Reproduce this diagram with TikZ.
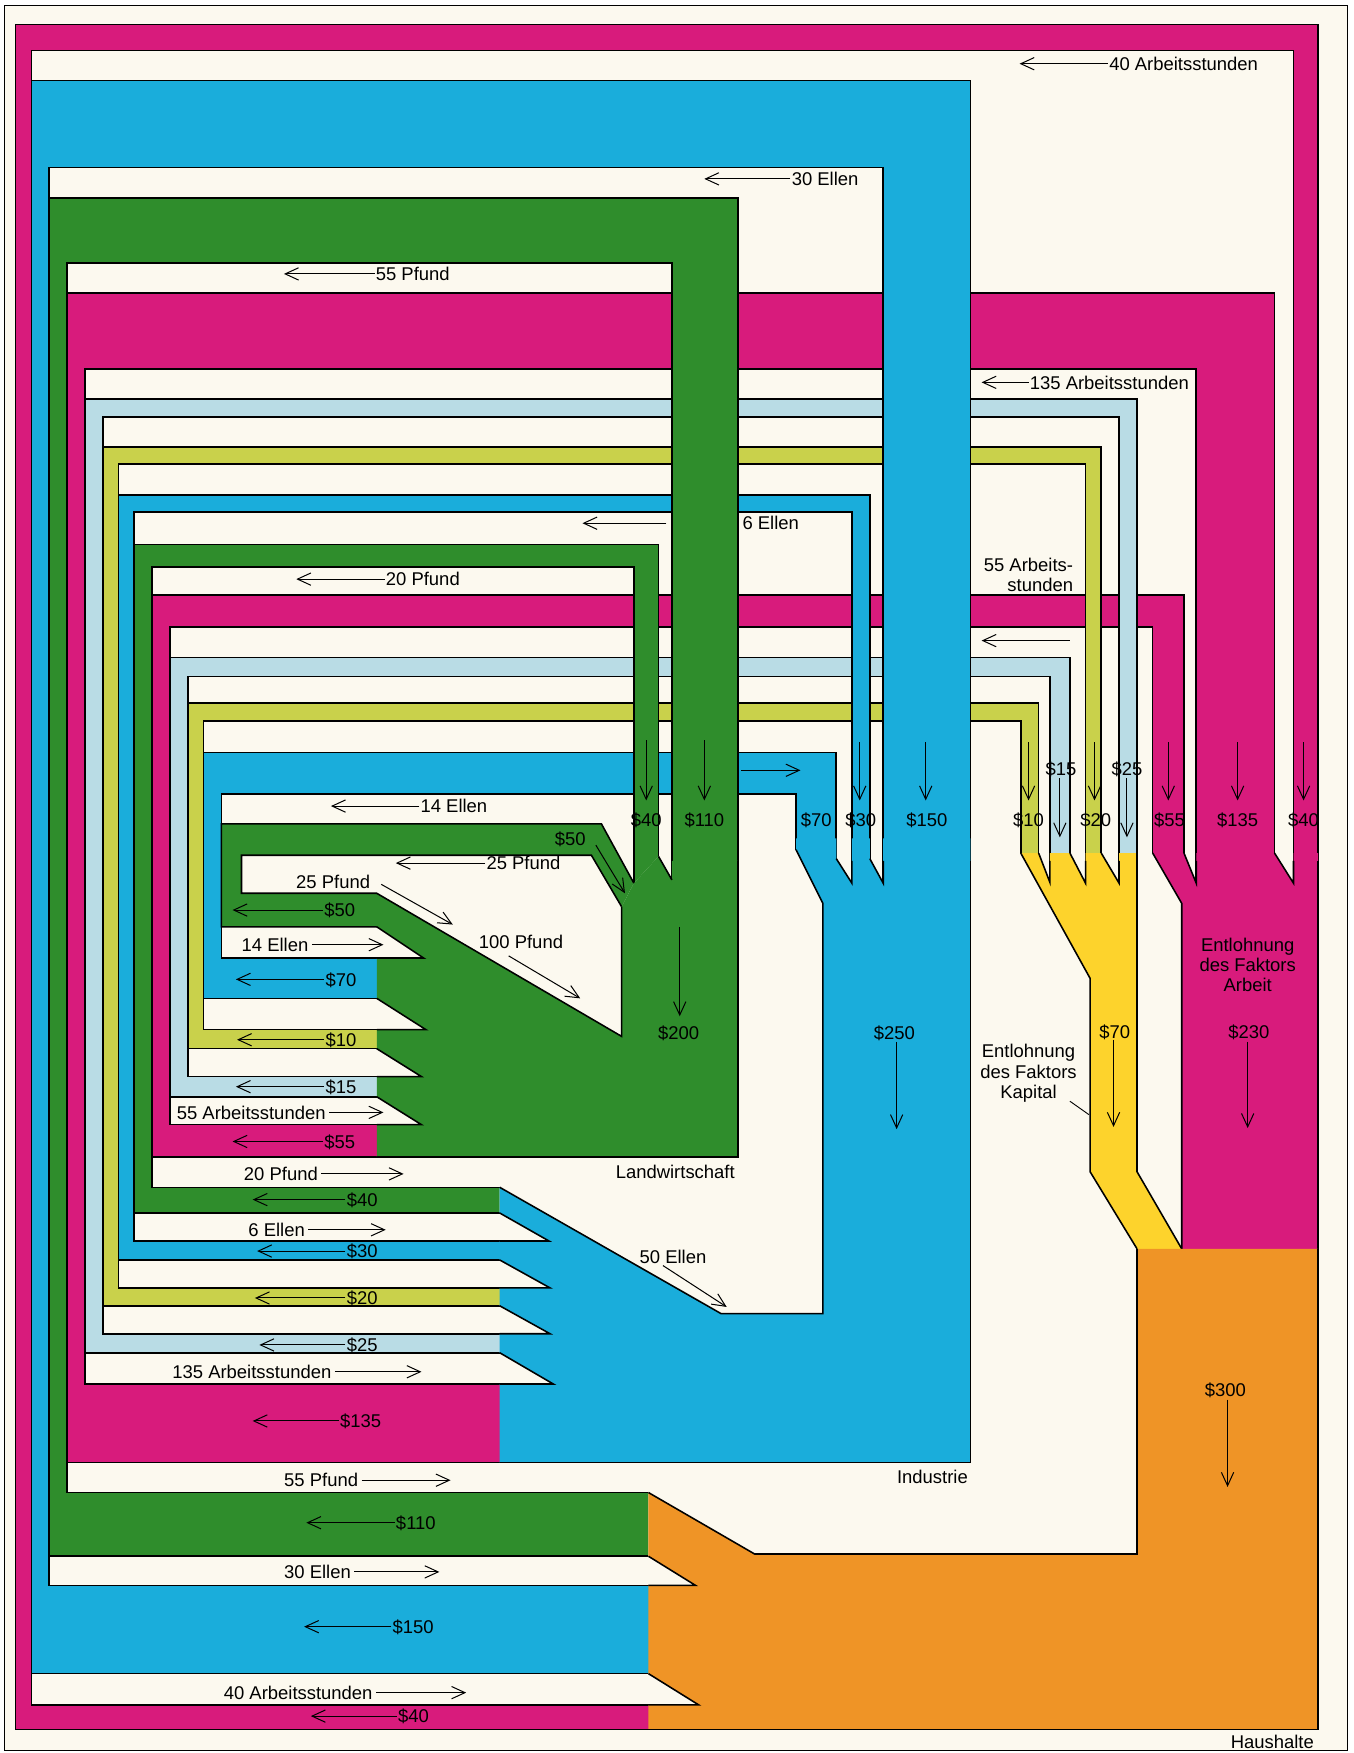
\documentclass[tikz,border=0pt]{standalone}
\usepackage{fontspec}
\setmainfont{Liberation Sans}
\usetikzlibrary{arrows.meta}
\definecolor{cMag}{HTML}{D81B7C}
\definecolor{cBlu}{HTML}{1AADDB}
\definecolor{cGrn}{HTML}{2F8D2C}
\definecolor{cLbl}{HTML}{B9DCE5}
\definecolor{cYgr}{HTML}{C9D14B}
\definecolor{cYel}{HTML}{FDD32C}
\definecolor{cOra}{HTML}{EF9426}
\definecolor{cCre}{HTML}{FCF9EF}
\newcommand\band[3]{\fill[#1] #2 -- #3 -- cycle; \draw[edge] #2; \draw[edge] #3;}
\newcommand\labL[5]{\node[lab,anchor=west] (#1) at (#2,#3) {#4}; \draw[arr] ([xshift=-1pt]#1.west) -- (#5,#3);}
\newcommand\labR[5]{\node[lab,anchor=west] (#1) at (#2,#3) {#4}; \draw[arr] ([xshift=3pt]#1.east) -- (#5,#3);}
\newcommand\dnarr[3]{\draw[arr] (#1,#2) -- (#1,#3);}
\begin{document}
\begin{tikzpicture}[x=1pt,y=-1pt,
 edge/.style={line width=1.4pt,line join=miter,line cap=butt},
 arr/.style={line width=0.9pt,-{Straight Barb[length=12pt,width=11pt]}},
 lab/.style={inner sep=0pt,font=\fontsize{16.5}{18}\selectfont,text height=12pt,text depth=0pt},
 ml/.style={inner sep=0pt,font=\fontsize{16.5}{18}\selectfont,align=center}]
\useasboundingbox (0,0) rectangle (1211,1568);
\fill[white] (0,0) rectangle (1211,1568);
\filldraw[fill=cCre,draw=black,line width=1.2pt] (4,5) rectangle (1205,1566);

% ---------- money bands (painter order) ----------
% M3 $55
\band{cMag}{(337,1035) -- (136,1035) -- (136,532) -- (1059,532) -- (1059,763)}{(1031,763) -- (1031,561) -- (152,561) -- (152,1006) -- (377,1006)}
% L2 $15
\band{cLbl}{(337,981) -- (152,981) -- (152,588) -- (957,588) -- (957,763)}{(939,789) -- (939,605) -- (168,605) -- (168,963) -- (377,963)}
% Y2 $10
\band{cYgr}{(337,938) -- (168,938) -- (168,629) -- (929,629) -- (929,763)}{(913,763) -- (913,645) -- (182,645) -- (182,921) -- (381,921)}
% B3 $70
\band{cBlu}{(337,893) -- (182,893) -- (182,673) -- (748,673) -- (748,768)}{(712,760) -- (712,710) -- (198,710) -- (198,857) -- (379,857)}
% G3 $50
\band{cGrn}{(337,829) -- (198,829) -- (198,737) -- (538,737) -- (567,790)}{(556,811) -- (529,765) -- (216,765) -- (216,799) -- (337,799)}
% M2 $135
\band{cMag}{(447,1308) -- (60,1308) -- (60,262) -- (1140,262) -- (1140,763)}{(1070,790) -- (1070,330) -- (76,330) -- (76,1238) -- (495,1238)}
% M1 $40
\band{cMag}{(580,1547) -- (14,1547) -- (14,22) -- (1179,22) -- (1179,790)}{(1157,790) -- (1157,45) -- (28,45) -- (28,1525) -- (625,1525)}
% L1 $25
\band{cLbl}{(447,1210) -- (76,1210) -- (76,357) -- (1017,357) -- (1017,763)}{(1001,790) -- (1001,373) -- (92,373) -- (92,1193) -- (492,1193)}
% Y1 $20
\band{cYgr}{(447,1168) -- (92,1168) -- (92,400) -- (985,400) -- (985,763)}{(971,790) -- (971,415) -- (106,415) -- (106,1152) -- (492,1152)}
% B2 $30
\band{cBlu}{(447,1127) -- (106,1127) -- (106,443) -- (778,443) -- (778,768)}{(762,790) -- (762,458) -- (120,458) -- (120,1110) -- (491,1110)}
% G2 $40
\band{cGrn}{(447,1085) -- (120,1085) -- (120,487) -- (589,487) -- (589,766)}{(567,790) -- (567,507) -- (136,507) -- (136,1062) -- (447,1062)}
% B1 $150
\band{cBlu}{(580,1497) -- (28,1497) -- (28,72) -- (868,72) -- (868,790)}{(790,790) -- (790,150) -- (44,150) -- (44,1418) -- (622,1418)}
% G1 $110
\band{cGrn}{(580,1392) -- (44,1392) -- (44,177) -- (660,177) -- (660,787)}{(601,787) -- (601,235) -- (60,235) -- (60,1335) -- (580,1335)}

% ---------- sector blocks ----------
% Landwirtschaft
\fill[cGrn] (337,799) -- (556,927) -- (556,811) -- (567,790) -- (589,766) -- (601,787) -- (601,770) -- (660,770) -- (660,1035) -- (337,1035) -- (337,1006) -- (377,1006) -- (337,981) -- (337,963) -- (377,963) -- (337,938) -- (337,921) -- (381,921) -- (337,893) -- (337,857) -- (379,857) -- (337,829) -- cycle;
\draw[edge] (589,766) -- (601,787);
\draw[edge] (556,811) -- (556,927) -- (337,799);
\draw[edge] (660,770) -- (660,1035) -- (337,1035);
\draw[edge] (337,829) -- (379,857) -- (337,857);
\draw[edge] (337,893) -- (381,921) -- (337,921);
\draw[edge] (337,938) -- (377,963) -- (337,963);
\draw[edge] (337,981) -- (377,1006) -- (337,1006);
% Industrie
\fill[cBlu] (447,1062) -- (645,1175) -- (736,1175) -- (736,808) -- (712,760) -- (712,750) -- (748,750) -- (748,768) -- (762,790) -- (762,750) -- (778,750) -- (778,768) -- (790,790) -- (790,750) -- (868,750) -- (868,1308) -- (447,1308) -- (447,1238) -- (495,1238) -- (447,1210) -- (447,1193) -- (492,1193) -- (447,1168) -- (447,1152) -- (492,1152) -- (447,1127) -- (447,1110) -- (491,1110) -- (447,1085) -- cycle;
\draw[edge] (712,760) -- (736,808) -- (736,1175) -- (645,1175) -- (447,1062);
\draw[edge] (748,768) -- (762,790) -- (762,770);
\draw[edge] (778,768) -- (790,790) -- (790,770);
\draw[edge] (868,770) -- (868,1308) -- (447,1308);
\draw[edge] (447,1085) -- (491,1110) -- (447,1110);
\draw[edge] (447,1127) -- (492,1152) -- (447,1152);
\draw[edge] (447,1168) -- (492,1193) -- (447,1193);
\draw[edge] (447,1210) -- (495,1238) -- (447,1238);
% Kapital
\fill[cYel] (913,763) -- (929,763) -- (939,789) -- (939,763) -- (957,763) -- (971,790) -- (971,763) -- (985,763) -- (1001,790) -- (1001,763) -- (1017,763) -- (1017,1048) -- (1057,1117) -- (1017,1117) -- (975,1048) -- (975,875) -- cycle;
\draw[edge] (913,763) -- (975,875) -- (975,1048) -- (1017,1117);
\draw[edge] (929,763) -- (939,789) -- (939,770);
\draw[edge] (957,763) -- (971,790) -- (971,770);
\draw[edge] (985,763) -- (1001,790) -- (1001,770);
\draw[edge] (1017,760) -- (1017,1048) -- (1057,1117);
% Arbeit
\fill[cMag] (1031,763) -- (1059,763) -- (1070,790) -- (1070,763) -- (1140,763) -- (1157,790) -- (1157,763) -- (1179,763) -- (1179,1117) -- (1057,1117) -- (1057,808) -- cycle;
\draw[edge] (1031,763) -- (1057,808) -- (1057,1117);
\draw[edge] (1059,763) -- (1070,790) -- (1070,770);
\draw[edge] (1140,763) -- (1157,790) -- (1157,770);
\draw[edge] (1179,770) -- (1179,1117);
% Haushalte
\fill[cOra] (1017,1117) -- (1179,1117) -- (1179,1547) -- (580,1547) -- (580,1525) -- (625,1525) -- (580,1497) -- (580,1418) -- (622,1418) -- (580,1392) -- (580,1335) -- (675,1390) -- (1017,1390) -- cycle;
\draw[edge] (1179,1117) -- (1179,1547) -- (580,1547);
\draw[edge] (580,1497) -- (625,1525) -- (580,1525);
\draw[edge] (580,1392) -- (622,1418) -- (580,1418);
\draw[edge] (580,1335) -- (675,1390) -- (1017,1390) -- (1017,1117);

% ---------- labels: top ----------
\labL{t1}{992}{57}{40 Arbeitsstunden}{912}
\labL{t2}{708}{160}{30 Ellen}{630}
\labL{t3}{336}{245}{55 Pfund}{254}
\labL{t4}{921}{342}{135 Arbeitsstunden}{878}
\node[lab,anchor=west] (t5) at (664,468) {6 Ellen};
\draw[arr] (596,468) -- (521,468);
\labL{t6}{345}{518}{20 Pfund}{265}
\node[ml,anchor=east,align=right] (t7) at (960,514) {55 Arbeits-\\stunden};
\draw[arr] (957,573) -- (878,573);
\labL{t8}{376}{721}{14 Ellen}{296}
\node[lab] (t9) at (510,750) {\$50};
\draw[arr] (533,756) -- (559,799);
\labL{t10}{435}{772}{25 Pfund}{354}
\node[lab] (t11) at (298,789) {25 Pfund};
\draw[arr] (341,791) -- (405,827);
\node[lab] (t12) at (466,842) {100 Pfund};
\draw[arr] (455,855) -- (519,893);

% ---------- labels: bottom strips ----------
\labL{t13}{290}{814}{\$50}{208}
\labR{t14}{216}{845}{14 Ellen}{343}
\labL{t15}{291}{876}{\$70}{211}
\labL{t16}{291}{930}{\$10}{212}
\labL{t17}{291}{972}{\$15}{211}
\labR{t18}{158}{995}{55 Arbeitsstunden}{343}
\labL{t19}{290}{1021}{\$55}{208}
\labR{t20}{218}{1050}{20 Pfund}{361}
\labL{t21}{310}{1073}{\$40}{226}
\labR{t22}{222}{1100}{6 Ellen}{345}
\labL{t23}{310}{1119}{\$30}{230}
\node[lab,anchor=west] (t24) at (572,1124) {50 Ellen};
\draw[arr] (593,1132) -- (650,1169);
\labL{t25}{310}{1161}{\$20}{228}
\labL{t26}{310}{1203}{\$25}{232}
\labR{t27}{154}{1227}{135 Arbeitsstunden}{377}
\labL{t28}{304}{1271}{\$135}{226}
\labR{t29}{254}{1324}{55 Pfund}{403}
\labL{t30}{354}{1362}{\$110}{274}
\labR{t31}{254}{1406}{30 Ellen}{393}
\labL{t32}{351}{1455}{\$150}{272}
\labR{t33}{200}{1514}{40 Arbeitsstunden}{417}
\labL{t34}{356}{1535}{\$40}{278}

% ---------- column labels ----------
\node[lab] (c1) at (578,733) {\$40}; \dnarr{578}{662}{716}
\node[lab] (c2) at (630,733) {\$110}; \dnarr{630}{662}{716}
\node[lab] (c3) at (730,733) {\$70};
\draw[arr] (663,689) -- (716,689);
\node[lab] (c4) at (770,733) {\$30}; \dnarr{769}{664}{716}
\node[lab] (c5) at (829,733) {\$150}; \dnarr{828}{664}{716}
\node[lab] (c6) at (920,733) {\$10}; \dnarr{920}{664}{716}
\node[lab] (c7) at (949,688) {\$15}; \dnarr{948}{696}{749}
\node[lab] (c8) at (980,733) {\$20}; \dnarr{979}{664}{716}
\node[lab] (c9) at (1008,688) {\$25}; \dnarr{1008}{696}{749}
\node[lab] (c10) at (1046,733) {\$55}; \dnarr{1045}{664}{716}
\node[lab] (c11) at (1107,733) {\$135}; \dnarr{1107}{664}{716}
\node[lab] (c12) at (1166,733) {\$40}; \dnarr{1166}{664}{716}

% ---------- sector labels ----------
\node[lab] (s1) at (604,1048) {Landwirtschaft};
\node[lab] (s2) at (834,1321) {Industrie};
\node[lab] (s3) at (1138,1558) {Haushalte};
\node[lab] (v1) at (607,924) {\$200}; \dnarr{608}{829}{909}
\node[lab] (v2) at (800,924) {\$250}; \dnarr{802}{932}{1010}
\node[lab] (v3) at (997,923) {\$70}; \dnarr{996}{930}{1008}
\node[lab] (v4) at (1117,923) {\$230}; \dnarr{1116}{932}{1009}
\node[lab] (v5) at (1096,1243) {\$300}; \dnarr{1098}{1252}{1330}
\node[ml] (e1) at (1116,863) {Entlohnung\\des Faktors\\Arbeit};
\node[ml] (e2) at (920,960) {Entlohnung\\des Faktors\\Kapital};
\draw[line width=0.8pt] (957,985) -- (974,997);
\end{tikzpicture}
\end{document}
